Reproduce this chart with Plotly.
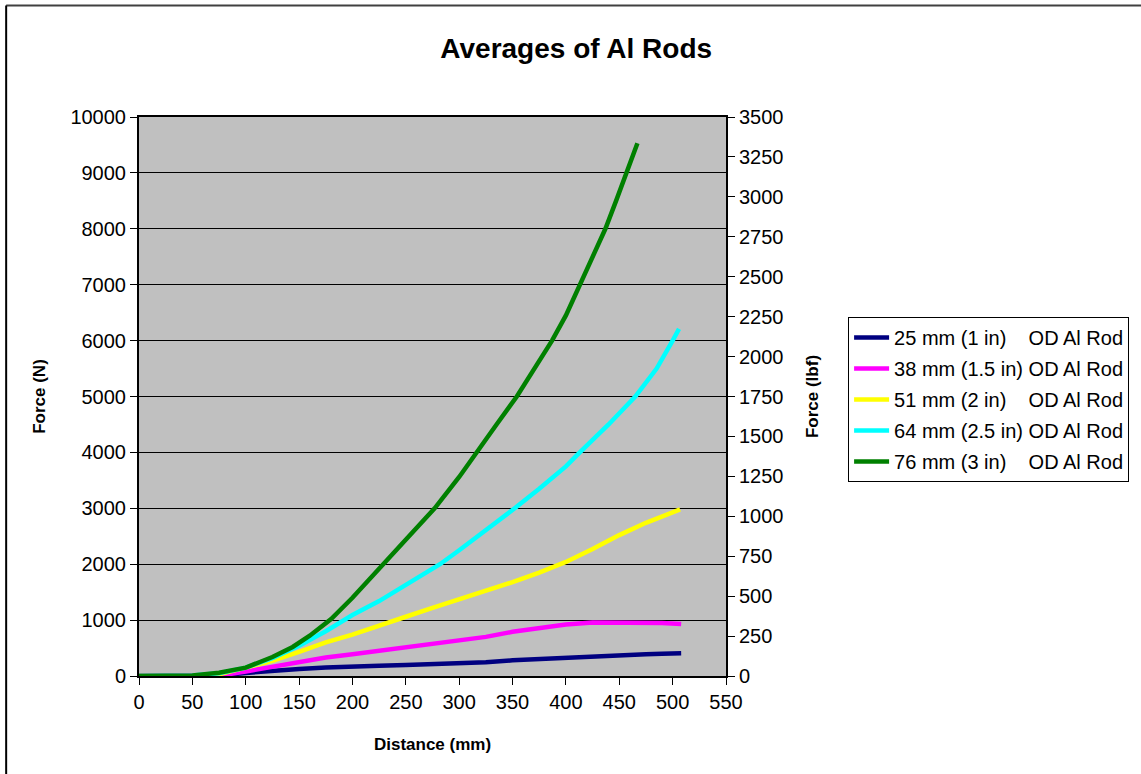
import plotly.graph_objects as go

# Average pull-out force curves for aluminium rods of several outer diameters
names = [
    "25 mm (1 in)\u00a0\u00a0\u00a0\u00a0OD Al Rod",
    "38 mm (1.5 in) OD Al Rod",
    "51 mm (2 in)\u00a0\u00a0\u00a0\u00a0OD Al Rod",
    "64 mm (2.5 in) OD Al Rod",
    "76 mm (3 in)\u00a0\u00a0\u00a0\u00a0OD Al Rod",
]
colors = ["#000080", "#FF00FF", "#FFFF00", "#00FFFF", "#008000"]

dist_25 = [0, 50, 65, 80, 100, 125, 150, 175, 200, 225, 250, 275, 300, 325, 350, 375, 400, 425, 450, 475, 490, 508]
force_25 = [0, 0, 0, 15, 55, 95, 125, 150, 175, 185, 195, 205, 225, 245, 280, 305, 330, 355, 375, 390, 400, 405]

dist_38 = [0, 60, 80, 100, 125, 150, 175, 200, 225, 250, 275, 300, 325, 350, 375, 400, 425, 450, 475, 490, 508]
force_38 = [0, 0, 20, 80, 170, 260, 330, 390, 450, 500, 560, 620, 700, 790, 860, 920, 955, 960, 955, 950, 930]

dist_51 = [0, 50, 75, 100, 125, 150, 175, 200, 225, 250, 275, 300, 325, 350, 375, 400, 425, 450, 475, 507]
force_51 = [0, 5, 30, 140, 270, 430, 600, 740, 890, 1060, 1220, 1370, 1520, 1680, 1850, 2040, 2270, 2520, 2740, 2980]

dist_64 = [0, 50, 75, 100, 125, 150, 175, 191, 200, 225, 250, 282, 300, 325, 352, 375, 400, 413, 440, 465, 485, 500, 506]
force_64 = [0, 10, 50, 150, 320, 540, 800, 990, 1090, 1340, 1620, 2000, 2250, 2600, 3000, 3350, 3750, 4000, 4500, 5000, 5500, 6000, 6210]

dist_76 = [0, 50, 75, 100, 125, 144, 160, 180, 200, 227, 250, 277, 300, 316, 335, 354, 370, 387, 400, 412, 425, 437, 447, 457, 467]
force_76 = [0, 10, 60, 150, 340, 520, 720, 1020, 1400, 1970, 2430, 3000, 3560, 4000, 4500, 5000, 5480, 6000, 6450, 6950, 7480, 8000, 8500, 9000, 9530]

N_PER_LBF = 4.44822

series = [
    (dist_25, force_25),
    (dist_38, force_38),
    (dist_51, force_51),
    (dist_64, force_64),
    (dist_76, force_76),
]

fig = go.Figure()
for i, ((xs, ys), name, col) in enumerate(zip(series, names, colors)):
    fig.add_trace(go.Scatter(
        x=xs, y=ys, mode="lines", name=name,
        line=dict(color=col, width=4.5),
        legendgroup=f"g{i}",
    ))

# secondary axis in pound-force (same curve, converted) so the right scale is drawn
fig.add_trace(go.Scatter(
    x=dist_76, y=[f / N_PER_LBF for f in force_76], yaxis="y2",
    mode="lines", line=dict(color="rgba(0,0,0,0)", width=0),
    showlegend=False, hoverinfo="skip",
))

font_family = "Liberation Sans, Arial, sans-serif"

fig.update_layout(
    width=1141, height=774,
    margin=dict(l=139, r=415, t=117, b=98),
    paper_bgcolor="white",
    plot_bgcolor="#C0C0C0",
    font=dict(family=font_family, color="black", size=20),
    title=dict(
        text="<b>Averages of Al Rods</b>",
        x=0.505, xanchor="center", y=0.938, yanchor="middle",
        font=dict(size=28, family=font_family, color="black"),
    ),
    xaxis=dict(
        range=[0, 550], dtick=50, tick0=0,
        showgrid=False, zeroline=False,
        showline=True, linecolor="black", linewidth=2, mirror=True,
        ticks="outside", ticklen=7, tickcolor="black", tickwidth=1,
        tickfont=dict(size=20),
        title=dict(text="<b>Distance (mm)</b>", font=dict(size=17), standoff=26),
    ),
    yaxis=dict(
        range=[0, 10000], dtick=1000, tick0=0, tickformat="d",
        showgrid=True, gridcolor="black", gridwidth=1, zeroline=False,
        showline=True, linecolor="black", linewidth=2,
        ticks="outside", ticklen=7, tickcolor="black", tickwidth=1,
        tickfont=dict(size=20),
        title=dict(text="<b>Force (N)</b>", font=dict(size=17), standoff=20),
    ),
    yaxis2=dict(
        range=[0, 3500], dtick=250, tick0=0, tickformat="d",
        overlaying="y", side="right",
        showgrid=False, zeroline=False,
        showline=True, linecolor="black", linewidth=2,
        ticks="outside", ticklen=7, tickcolor="black", tickwidth=1,
        tickfont=dict(size=20),
        title=dict(text="<b>Force (lbf)</b>", font=dict(size=17), standoff=24),
    ),
    legend=dict(
        x=1.208, y=0.642, xanchor="left", yanchor="top",
        bordercolor="black", borderwidth=1, bgcolor="white",
        font=dict(size=20, family=font_family),
        traceorder="grouped", tracegroupgap=2, itemwidth=35,
    ),
    showlegend=True,
)

# outer chart-area frame (top and left edges)
fig.add_shape(type="line", xref="paper", yref="paper",
              x0=-0.2263, x1=1.8, y0=1.1995, y1=1.1995,
              line=dict(color="#404040", width=2))
fig.add_shape(type="line", xref="paper", yref="paper",
              x0=-0.2263, x1=-0.2263, y0=1.1995, y1=-0.3,
              line=dict(color="black", width=2))

fig.write_html("out.html")
